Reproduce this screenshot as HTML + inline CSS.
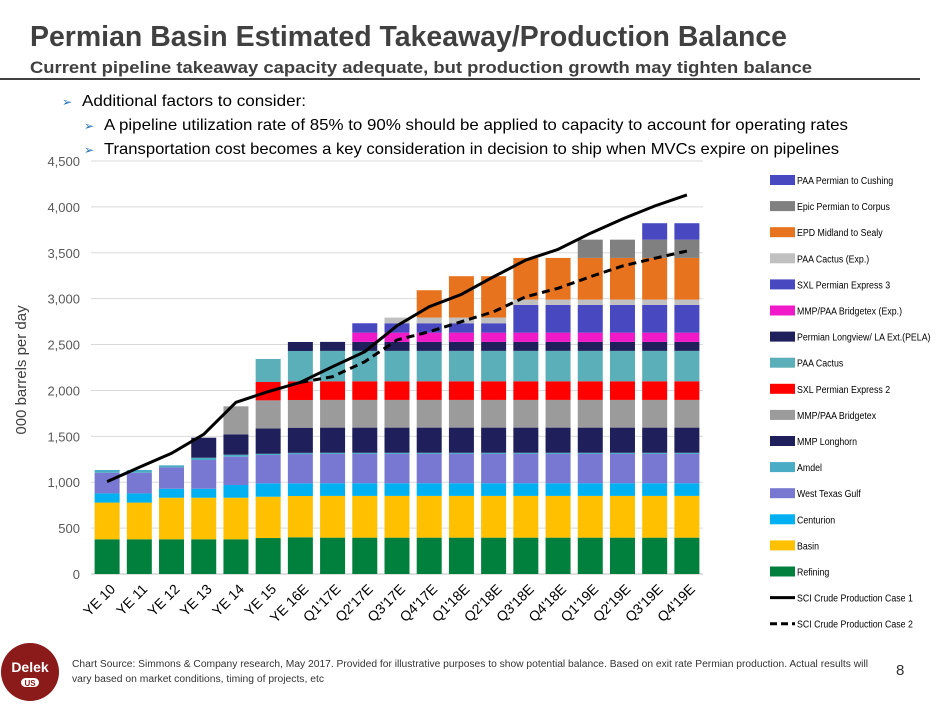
<!DOCTYPE html>
<html><head><meta charset="utf-8"><style>
body{margin:0;background:#fff;}
svg{display:block;font-family:"Liberation Sans",sans-serif;}
</style></head><body>
<svg id="c" width="940" height="705" viewBox="0 0 940 705" xmlns="http://www.w3.org/2000/svg">
<text x="30" y="46" font-size="29" font-weight="bold" fill="#404040" textLength="757" lengthAdjust="spacingAndGlyphs">Permian Basin Estimated Takeaway/Production Balance</text>
<text x="30" y="73" font-size="17" font-weight="bold" fill="#404040" textLength="782" lengthAdjust="spacingAndGlyphs">Current pipeline takeaway capacity adequate, but production growth may tighten balance</text>
<rect x="0" y="78" width="920" height="2" fill="#404040"/>
<g font-size="16" fill="#000">
<text x="62" y="106" fill="#1F6FB8" font-size="12">➢</text>
<text x="82" y="106" textLength="224" lengthAdjust="spacingAndGlyphs">Additional factors to consider:</text>
<text x="84" y="130" fill="#1F6FB8" font-size="12">➢</text>
<text x="104" y="130" textLength="744" lengthAdjust="spacingAndGlyphs">A pipeline utilization rate of 85% to 90% should be applied to capacity to account for operating rates</text>
<text x="84" y="154" fill="#1F6FB8" font-size="12">➢</text>
<text x="104" y="154" textLength="735" lengthAdjust="spacingAndGlyphs">Transportation cost becomes a key consideration in decision to ship when MVCs expire on pipelines</text>
</g>
<g id="grid"></g><g id="bars"></g><g id="lines"></g><g id="axes"></g><g id="legend"></g>
<text transform="translate(26,370) rotate(-90)" text-anchor="middle" font-size="15" fill="#404040">000 barrels per day</text>
<g>
<circle cx="30" cy="672" r="29" fill="#8B1A1A"/>
<text x="30" y="672" text-anchor="middle" font-size="14" font-weight="bold" fill="#fff">Delek</text>
<rect x="21" y="678" width="18" height="9" rx="4.5" fill="#fff"/>
<text x="30" y="686" text-anchor="middle" font-size="8" font-weight="bold" fill="#8B1A1A">US</text>
</g>
<text x="72" y="667" font-size="10" fill="#333" textLength="796" lengthAdjust="spacingAndGlyphs">Chart Source: Simmons &amp; Company research, May 2017. Provided for illustrative purposes to show potential balance.  Based on exit rate Permian production. Actual results will</text>
<text x="72" y="682" font-size="10" fill="#333" textLength="252" lengthAdjust="spacingAndGlyphs">vary based on market conditions, timing of projects, etc</text>
<text x="896" y="675" font-size="15" fill="#333">8</text>
</svg>
<script>
const categories=["YE 10","YE 11","YE 12","YE 13","YE 14","YE 15","YE 16E","Q1'17E","Q2'17E","Q3'17E","Q4'17E","Q1'18E","Q2'18E","Q3'18E","Q4'18E","Q1'19E","Q2'19E","Q3'19E","Q4'19E"];
const seriesNames=["Refining","Basin","Centurion","West Texas Gulf","Amdel","MMP Longhorn","MMP/PAA Bridgetex","SXL Permian Express 2","PAA Cactus","Permian Longview/ LA Ext.(PELA)","MMP/PAA Bridgetex (Exp.)","SXL Permian Express 3","PAA Cactus (Exp.)","EPD Midland to Sealy","Epic Permian to Corpus","PAA Permian to Cushing"];
const seriesColors=["#00803C","#FFC000","#00B0F0","#7878D2","#4BACC6","#1F1F5C","#9B9B9B","#FF0000","#5BAFB8","#1F1F5C","#F01AC8","#4848C0","#C0C0C0","#E8731E","#808080","#4848C0"];
const refining=[378,378,378,378,378,392,400,396,396,396,396,396,396,396,396,396,396,396,396];
const basin=[400,400,453,453,453,450,450,455,455,455,455,455,455,455,455,455,455,455,455];
const centurion=[100,100,98,98,139,146,138,138,138,138,138,138,138,138,138,138,138,138,138];
const westTexasGulf=[225,225,233,313,308,309,319,319,319,319,319,319,319,319,319,319,319,319,319];
const amdel=[30,30,22,25,22,13,13,13,13,13,13,13,13,13,13,13,13,13,13];
const mmpLonghorn=[0,0,0,218,222,277,274,274,274,274,274,274,274,274,274,274,274,274,274];
const bridgetex=[0,0,0,0,305,305,302,302,302,302,302,302,302,302,302,302,302,302,302];
const sxlExpress2=[0,0,0,0,0,200,203,203,203,203,203,203,203,203,203,203,203,203,203];
const paaCactus=[0,0,0,0,0,251,331,331,331,331,331,331,331,331,331,331,331,331,331];
const pela=[0,0,0,0,0,0,98,98,98,98,98,98,98,98,98,98,98,98,98];
const bridgetexExp=[0,0,0,0,0,0,0,0,101,101,101,101,101,101,101,101,101,101,101];
const sxlExpress3=[0,0,0,0,0,0,0,0,102,102,102,102,102,302,302,302,302,302,302];
const cactusExp=[0,0,0,0,0,0,0,0,0,62,62,62,62,58,58,58,58,58,58];
const epdSealy=[0,0,0,0,0,0,0,0,0,0,298,451,451,454,454,454,454,454,454];
const epicCorpus=[0,0,0,0,0,0,0,0,0,0,0,0,0,0,0,199,199,199,199];
const paaCushing=[0,0,0,0,0,0,0,0,0,0,0,0,0,0,0,0,0,179,179];
const case1=[1006,1163,1315,1522,1871,1987,2088,2259,2422,2705,2912,3047,3239,3421,3537,3712,3868,4010,4130];
const case2=[null,null,null,null,null,null,2088,2150,2313,2550,2640,2749,2858,3021,3113,3239,3356,3440,3519];
const yTicks=[0,500,1000,1500,2000,2500,3000,3500,4000,4500];
const yTickLabels=["0","500","1,000","1,500","2,000","2,500","3,000","3,500","4,000","4,500"];

const allSeries=[refining,basin,centurion,westTexasGulf,amdel,mmpLonghorn,bridgetex,sxlExpress2,paaCactus,pela,bridgetexExp,sxlExpress3,cactusExp,epdSealy,epicCorpus,paaCushing];
const NS="http://www.w3.org/2000/svg";
const plotL=91,plotR=703,y0=574,yTop=161,yMax=4500;
const step=(plotR-plotL)/categories.length,barW=25;
function xC(i){return plotL+step*(i+0.5);}
function yS(v){return y0-(v/yMax)*(y0-yTop);}
function mk(tag,attrs,parent){const e=document.createElementNS(NS,tag);for(const k in attrs)e.setAttribute(k,attrs[k]);parent.appendChild(e);return e;}
const grid=document.getElementById('grid'),bars=document.getElementById('bars'),lines=document.getElementById('lines'),axes=document.getElementById('axes'),legend=document.getElementById('legend');
yTicks.forEach((t,i)=>{
  const l=mk('line',{x1:plotL,x2:plotR,y1:yS(t),y2:yS(t),stroke:i===0?'#BFBFBF':'#D9D9D9','stroke-width':1},grid);
  
  
  const tx=mk('text',{x:80,y:yS(t)+5,'text-anchor':'end','font-size':13,fill:'#595959'},axes);
  tx.textContent=yTickLabels[i];
  
  
});
categories.forEach((c,i)=>{
  let acc=0;
  allSeries.forEach((s,si)=>{
    const v=s[i];if(!v)return;
    const r=mk('rect',{x:xC(i)-barW/2,y:yS(acc+v),width:barW,height:yS(acc)-yS(acc+v),fill:seriesColors[si]},bars);
    
    
    acc+=v;
  });
  const t=mk('text',{x:0,y:0,'text-anchor':'end','font-size':14,fill:'#000',transform:`translate(${xC(i)+9},${590}) rotate(-45)`},axes);
  t.textContent=c;
  
  
});
function path(arr){let d='';arr.forEach((v,i)=>{if(v==null)return;d+=(d?'L':'M')+xC(i)+','+yS(v);});return d;}
const p1=mk('path',{d:path(case1),fill:'none',stroke:'#000','stroke-width':3},lines);


const p2=mk('path',{d:path(case2),fill:'none',stroke:'#000','stroke-width':3,'stroke-dasharray':'8,5'},lines);


function fitText(t){const w=t.getComputedTextLength();t.setAttribute('textLength',(w*0.88).toFixed(1));t.setAttribute('lengthAdjust','spacingAndGlyphs');}
const legY0=180,legStep=26.1;
for(let k=0;k<seriesNames.length;k++){
  const si=seriesNames.length-1-k,y=legY0+k*legStep;
  const r=mk('rect',{x:770,y:y-5,width:25,height:10,fill:seriesColors[si]},legend);
  
  
  const t=mk('text',{x:797,y:y+4,'font-size':10,fill:'#000'},legend);
  t.textContent=seriesNames[si];
  
  
  fitText(t);
}
[["SCI Crude Production Case 1",null],["SCI Crude Production Case 2","7,4"]].forEach((e,k)=>{
  const y=legY0+(16+k)*legStep;
  const attrs={x1:770,x2:795,y1:y,y2:y,stroke:'#000','stroke-width':3};
  if(e[1])attrs['stroke-dasharray']=e[1];
  const l=mk('line',attrs,legend);
  
  
  const t=mk('text',{x:797,y:y+4,'font-size':10,fill:'#000'},legend);
  t.textContent=e[0];
  
  
  fitText(t);
});
</script>
</body></html>
